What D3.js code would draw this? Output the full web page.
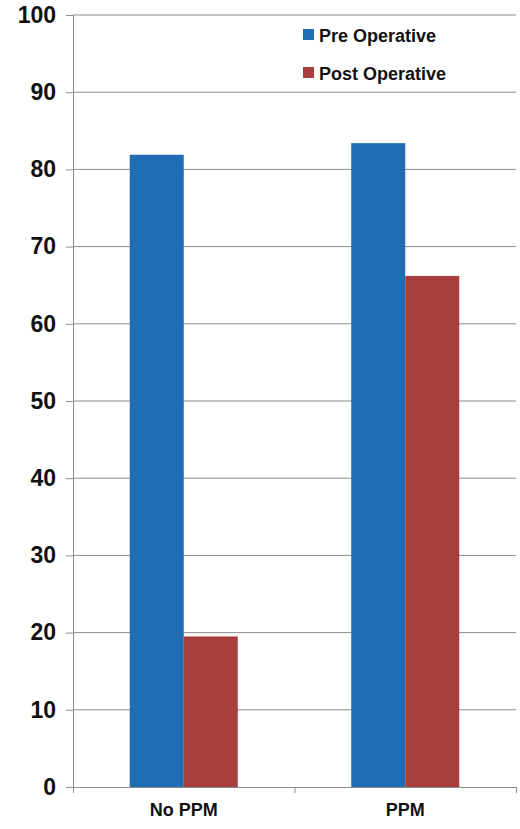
<!DOCTYPE html>
<html><head><meta charset="utf-8">
<script src="https://cdn.jsdelivr.net/npm/d3@7"></script>
<style>body{margin:0;background:#fff}text{font-family:Arial,"Liberation Sans",sans-serif;font-weight:bold}</style>
</head><body><svg width="520" height="829"></svg>
<script>
var categories = ["No PPM", "PPM"];
var seriesNames = ["Pre Operative", "Post Operative"];
var preValues = [81.9, 83.4];
var postValues = [19.5, 66.2];
var yTicks = [0, 10, 20, 30, 40, 50, 60, 70, 80, 90, 100];
var colors = ["#1f6db3", "#a83f3c"];

var svg = d3.select("svg");
var mLeft = 73, mRight = 516, mTop = 15, mBottom = 787;

var x = d3.scaleBand().domain(categories).range([mLeft, mRight]);
var sub = d3.scaleBand().domain([0, 1]).range([0, x.bandwidth()]).paddingOuter(1.05);
var y = d3.scaleLinear().domain([0, 100]).range([mBottom, mTop]);

// gridlines
svg.append("g").selectAll("line").data(yTicks.slice(1)).enter().append("line")
  .attr("x1", mLeft).attr("x2", mRight)
  .attr("y1", function(d){ return y(d); }).attr("y2", function(d){ return y(d); })
  .style("stroke", "#8c8c8c").style("stroke-width", "1px");

var data = categories.map(function(c, i){ return {cat: c, vals: [preValues[i], postValues[i]]}; });
svg.append("g").selectAll("g").data(data).enter().append("g")
  .attr("transform", function(d){ return "translate(" + x(d.cat) + ",0)"; })
  .selectAll("rect").data(function(d){ return d.vals; }).enter().append("rect")
  .attr("x", function(d, i){ return sub(i); })
  .attr("width", sub.bandwidth())
  .attr("y", function(d){ return y(d); })
  .attr("height", function(d){ return mBottom - y(d); })
  .style("fill", function(d, i){ return colors[i]; });

// axes
var yAxis = svg.append("g").attr("transform", "translate(" + mLeft + ",0)")
  .call(d3.axisLeft(y).tickValues(yTicks).tickSize(7).tickPadding(10));
yAxis.selectAll("text").style("font-size", "23px").style("fill", "#111");
var xAxis = svg.append("g").attr("transform", "translate(0," + mBottom + ")")
  .call(d3.axisBottom(x).tickSize(0).tickPadding(16));
xAxis.selectAll("text").style("font-size", "18px").style("fill", "#111");
svg.append("g").attr("transform", "translate(0," + mBottom + ")")
  .call(d3.axisBottom(d3.scaleLinear().domain([0, 2]).range([mLeft, mRight])).ticks(2).tickSize(6).tickFormat(""));
svg.selectAll(".domain, .tick line").style("stroke", "#8c8c8c");

// legend
var legend = svg.append("g").selectAll("g").data(seriesNames).enter().append("g")
  .attr("transform", function(d, i){ return "translate(303," + (35 + i * 38) + ")"; });
legend.append("rect").attr("x", 0).attr("y", -6).attr("width", 11).attr("height", 11)
  .style("fill", function(d, i){ return colors[i]; });
legend.append("text").attr("x", 16).attr("y", 7).text(function(d){ return d; })
  .style("font-size", "18px").style("fill", "#111");
</script></body></html>
